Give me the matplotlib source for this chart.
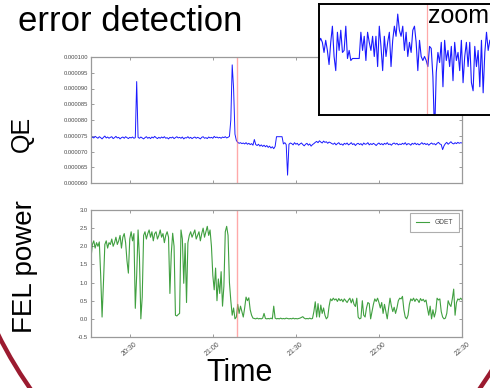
import datetime as dt

import matplotlib

matplotlib.use("Agg")
import matplotlib.dates as mdates
import matplotlib.pyplot as plt
import numpy as np
from matplotlib.patches import Ellipse

plt.rcParams["font.family"] = ["Liberation Sans", "DejaVu Sans"]
plt.rcParams["axes.unicode_minus"] = True

W, H = 490, 388

# sampling: one point every 30 s starting 20:16
T_START = dt.datetime(2016, 1, 1, 20, 16)
STEP_S = 30
EVENT = dt.datetime(2016, 1, 1, 21, 8, 36)

# QE in units of 1e-6
qe_e6 = [
    74.1, 74.6, 74.3, 74.8, 74.5, 74.2, 74.7, 74.4, 74.0, 74.5,
    74.9, 74.3, 74.6, 74.2, 74.5, 74.7, 74.1, 74.4, 74.8, 74.3,
    74.5, 74.0, 74.4, 74.6, 74.2, 74.7, 74.4, 74.1, 74.5, 74.3,
    74.6, 74.2, 74.4, 92.2,
    74.5, 74.2, 74.6, 74.3, 74.0, 74.4, 74.7, 74.2, 74.5, 74.1,
    74.6, 74.3, 74.8, 74.4, 74.1, 74.5, 74.2, 74.6, 74.3, 74.7,
    74.2, 74.4, 74.0, 74.5, 74.3, 74.6, 74.1, 74.4, 74.7, 74.3,
    74.5, 74.2, 74.6, 74.0, 74.4, 74.3, 74.7, 74.2, 74.5, 74.1,
    74.4, 74.6, 74.2, 74.5, 74.3, 74.0, 74.5, 74.7, 74.2, 74.4,
    74.1, 74.6, 74.3, 74.5, 74.2, 74.8, 74.4, 74.6, 74.3, 74.5,
    74.2, 74.6, 74.4, 74.7, 74.3, 74.5, 74.8,
    80.0, 97.5, 90.0, 75.5, 73.5,
    72.9, 72.6, 72.8, 72.5, 72.7, 72.4, 72.8, 72.3, 72.6, 72.2,
    72.5, 72.0, 73.8, 72.2, 71.9, 72.3, 71.7, 72.1, 71.6, 72.0,
    71.5, 71.9, 71.3, 71.7, 71.1, 71.5, 70.9, 71.6,
    74.7, 74.7, 74.7, 74.7, 74.7,
    72.4, 72.8, 72.2, 62.5, 72.3, 72.7,
    72.5, 72.1, 72.8, 72.3, 72.6, 72.0, 72.4, 72.7, 72.2, 71.8,
    72.3, 72.6, 72.0, 72.4, 71.7, 72.2, 72.5, 72.9,
    73.2, 72.8, 73.4, 73.0, 72.7, 73.3, 72.9, 73.1, 72.6, 73.0,
    72.8, 72.5,
    72.3, 72.7, 72.1, 72.5, 72.8, 72.2, 72.4, 72.0, 72.6, 72.3,
    72.7, 72.1, 72.4, 72.8, 72.2, 72.5, 71.9, 72.4, 72.6, 72.2,
    72.5, 72.0, 72.7, 72.3, 72.4, 72.8, 72.1, 72.5, 72.2, 72.6,
    72.3, 71.9, 72.4, 72.7, 72.2, 72.5, 72.1, 72.6, 72.3, 72.8,
    72.2, 72.4, 72.0, 72.5, 72.7, 72.3, 72.6, 72.1, 72.4, 72.2,
    72.6, 72.3, 72.8, 72.1, 72.5, 72.4, 72.0, 72.6, 72.3, 72.7,
    72.2, 72.5, 72.1, 72.4, 72.8, 72.3, 72.6, 72.2, 72.5, 72.0,
    72.4, 72.7, 72.3, 72.5, 72.1, 72.6, 72.9, 72.4, 72.2,
    70.6, 71.8,
    72.5, 72.9, 72.3, 72.7, 73.1, 72.6, 72.4, 72.8, 72.5, 72.9,
    72.6, 72.8, 72.7,
]

gdet = [
    1.68, 2.05, 2.15, 1.95, 2.10, 2.00, 2.12, 1.20, 0.05, 1.00,
    2.05, 2.15, 1.95, 2.10, 2.05, 2.20, 2.00, 2.10, 2.25, 2.05,
    2.15, 2.30, 1.95, 2.25, 2.35, 2.10, 1.60, 1.26, 2.20, 2.40,
    2.15, 2.35, 0.29, 1.20, 2.45, 1.70, 0.00, 0.60, 2.30, 2.40,
    2.20, 2.35, 2.45, 2.25, 2.40, 2.15, 2.35, 2.40, 2.20, 2.30,
    2.45, 2.25, 2.35, 2.10, 2.30, 2.40, 2.25, 0.70, 1.80, 2.36,
    2.00, 0.10, 0.08, 0.12, 0.15, 2.45, 2.20, 0.98, 2.08, 0.45,
    2.10, 2.30, 2.40, 2.25, 2.35, 2.45, 2.20, 2.30, 2.40, 2.15,
    2.35, 2.50, 2.25, 2.40, 2.55, 2.30, 2.45, 2.00, 1.20, 0.80,
    1.40, 0.50, 1.10, 0.70, 1.30, 0.35, 0.90, 2.40, 2.55, 2.30,
    1.00, 0.50, 0.10, 0.30, 0.00, 0.05, 0.40, 0.15, 0.35, 0.20,
    0.05, 0.30, 0.60, 0.50, 0.58, 0.25, 0.10, 0.02, 0.01, 0.00,
    0.02, 0.00, 0.01, 0.00, 0.02, 0.15, 0.01, 0.00, 0.01, 0.00,
    0.02, 0.00, 0.35, 0.02, 0.00, 0.01, 0.00, 0.02, 0.00, 0.01,
    0.00, 0.02, 0.01, 0.00, 0.01, 0.00, 0.02, 0.00, 0.01, 0.00,
    0.01, 0.02, 0.04, 0.06, 0.02, 0.00, 0.01, 0.00, 0.02, 0.00,
    0.01, 0.20, 0.47, 0.05, 0.42, 0.05, 0.38, 0.15, 0.30, 0.10,
    0.00, 0.05, 0.35, 0.55, 0.50, 0.57, 0.52, 0.55, 0.48, 0.56,
    0.50, 0.54, 0.47, 0.55, 0.50, 0.45, 0.52, 0.57, 0.44, 0.55,
    0.40, 0.34, 0.57, 0.05, 0.00, 0.02, 0.50, 0.10, 0.05, 0.30,
    0.45, 0.42, 0.00, 0.20, 0.40, 0.55, 0.48, 0.57, 0.45, 0.30,
    0.45, 0.15, 0.40, 0.20, 0.00, 0.30, 0.57, 0.35, 0.20, 0.32,
    0.15, 0.30, 0.50, 0.57, 0.55, 0.62, 0.25, 0.05, 0.00, 0.10,
    0.40, 0.55, 0.50, 0.57, 0.48, 0.55, 0.52, 0.45, 0.56, 0.50,
    0.54, 0.47, 0.52, 0.30, 0.10, 0.35, 0.00, 0.25, 0.05, 0.20,
    0.57, 0.52, 0.55, 0.20, 0.05, 0.00, 0.02, 0.15, 0.50, 0.40,
    0.34, 0.55, 0.82, 0.10, 0.45, 0.55, 0.52, 0.57, 0.53,
]

# close-up of QE around the event (units of 1e-6, one value per sample)
zoom_qe = [
    74.1, 74.3, 74.1, 73.6, 74.2, 73.7, 73.0, 74.1, 74.9, 73.4,
    72.7, 74.6, 73.7, 74.7, 73.6, 73.7, 74.9, 73.3, 73.7, 73.2,
    73.3, 73.3, 73.3, 73.3, 73.3, 74.6, 73.7, 74.4, 73.2, 74.6,
    74.1, 73.7, 74.4, 73.4, 74.4, 72.9, 74.9, 73.9, 72.7, 74.4,
    73.4, 74.1, 74.6, 72.9, 74.2, 74.9, 74.4, 75.5, 74.7, 74.4,
    74.9, 73.7, 74.6, 73.4, 74.1, 73.6, 74.7, 74.9, 74.1, 72.7,
    74.2, 73.4, 73.2, 73.4, 73.2, 72.9, 73.9, 73.8, 72.4, 69.5,
    72.6, 73.6, 73.1, 74.1, 71.9, 74.2, 73.2, 73.7, 72.9, 73.9,
    72.2, 74.1, 73.2, 73.6, 72.7, 74.2, 72.1, 73.4, 74.1, 72.9,
    74.1, 72.1, 71.7, 73.9, 72.9, 73.7, 71.9, 74.2, 71.6, 73.6,
    74.6, 73.7, 74.2,
]
ZOOM_EVENT = 64.5

times = [T_START + dt.timedelta(seconds=STEP_S * i) for i in range(len(qe_e6))]
times_g = [T_START + dt.timedelta(seconds=STEP_S * i) for i in range(len(gdet))]
t_end = dt.datetime(2016, 1, 1, 22, 30)

TICK_GREY = "#8c8c8c"
LABEL_GREY = "#4a4a4a"


def px(x0, y0, x1, y1):
    """pixel box (left, top, right, bottom) -> figure fraction rect"""
    return [x0 / W, 1 - y1 / H, (x1 - x0) / W, (y1 - y0) / H]


def style_axes(ax):
    for s in ax.spines.values():
        s.set_color("#9a9a9a")
        s.set_linewidth(0.9)
    ax.tick_params(direction="in", length=2.5, width=0.6, colors=TICK_GREY,
                   labelcolor=LABEL_GREY, labelsize=4.2, pad=2,
                   top=True, right=True)
    ax.tick_params(axis="x", labelsize=5.0, pad=3)
    ax.xaxis.set_major_locator(mdates.MinuteLocator(byminute=[0, 30]))
    ax.xaxis.set_major_formatter(mdates.DateFormatter("%H:%M"))
    ax.set_xlim(T_START, t_end)


fig = plt.figure(figsize=(W / 100, H / 100), dpi=100)

ax1 = fig.add_axes(px(91, 57, 462, 183))
style_axes(ax1)
ax1.plot(times, np.array(qe_e6) * 1e-6, color="#1a1aff", lw=0.7)
ax1.axvline(EVENT, color="#ff7070", lw=1.0, alpha=0.6)
ax1.set_ylim(0.000060, 0.000100)
ax1.set_yticks(np.arange(60, 101, 5) * 1e-6)
ax1.yaxis.set_major_formatter(matplotlib.ticker.FormatStrFormatter("%.6f"))
ax1.tick_params(axis="x", labelbottom=False)

ax2 = fig.add_axes(px(91, 210, 462, 337))
style_axes(ax2)
ax2.plot(times_g, gdet, color="#008000", lw=0.8, alpha=0.75, label="GDET")
ax2.axvline(EVENT, color="#ff7070", lw=1.0, alpha=0.6)
ax2.set_ylim(-0.5, 3.0)
ax2.set_yticks(np.arange(-0.5, 3.01, 0.5))
ax2.yaxis.set_major_formatter(matplotlib.ticker.FormatStrFormatter("%.1f"))
for lab in ax2.get_xticklabels():
    lab.set_rotation(40)
    lab.set_ha("center")
leg = ax2.legend(loc="upper right", fontsize=4.8, fancybox=False,
                 handlelength=2.0, borderpad=0.9, labelcolor=LABEL_GREY)
leg.get_frame().set_edgecolor("#9a9a9a")
leg.get_frame().set_linewidth(0.8)

# zoom inset, running off the right edge
axz = fig.add_axes(px(319, 4, 520, 115))
axz.set_zorder(5)
axz.plot(np.arange(len(zoom_qe)), zoom_qe, color="#1a1aff", lw=0.8)
axz.axvline(ZOOM_EVENT, color="#ff7070", lw=0.9, alpha=0.6)
axz.set_xlim(0, 120)
axz.set_ylim(70.5, 76.0)
axz.set_xticks([])
axz.set_yticks([])
for s in axz.spines.values():
    s.set_color("black")
    s.set_linewidth(1.4)
axz.text(0.542, 0.829, "zoom", transform=axz.transAxes, fontsize=18,
         va="baseline", ha="left")

fig.text(18 / W, 1 - 31 / H, "error detection", fontsize=25, va="baseline")
fig.text(22 / W, 1 - 134 / H, "QE", fontsize=18, rotation=90,
         ha="center", va="center")
fig.text(25 / W, 1 - 267 / H, "FEL power", fontsize=20, rotation=90,
         ha="center", va="center")
fig.text(240 / W, 1 - 381 / H, "Time", fontsize=22, ha="center",
         va="baseline")

# slide frame arc in the lower corners
fig.add_artist(Ellipse((255 / W, 1 - 100 / H), 620 / W, 838 / H,
                       transform=fig.transFigure, fill=False,
                       edgecolor="#9b1b30", lw=3.2, zorder=10))

fig.savefig("out.png", dpi=100)
